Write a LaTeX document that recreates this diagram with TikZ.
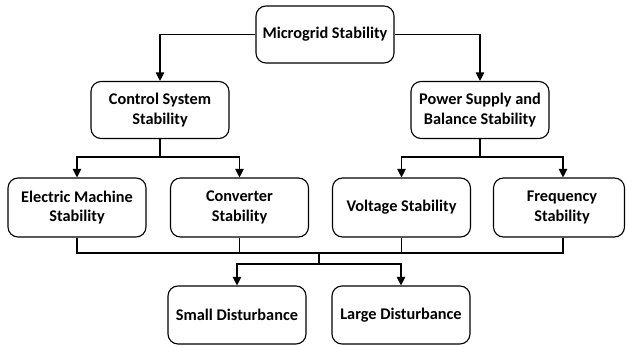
\documentclass[tikz,border=0pt]{standalone}
\usepackage{fontspec}
\setmainfont{Carlito}
\usetikzlibrary{arrows.meta}

\tikzset{
    block/.style={draw,
        rounded corners=10pt,
        line width=1.1pt,
        minimum width=138pt,
        minimum height=57pt,
        align=center,
        font=\fontsize{16.3}{19.5}\selectfont\bfseries},
    link/.style={line width=1.1pt},
    arrow/.style={link, -{Triangle[length=8.5pt,width=8.5pt]}}
}

\begin{document}
\begin{tikzpicture}[x=1pt,y=-1pt]

% Page frame (same size as the original figure)
\useasboundingbox (0,0) rectangle (626,347);

% Top level
\node[block] (micro) at (325,34.5) {Microgrid Stability};

% Second level
\node[block] (ctrl) at (160,110) {Control System\\Stability};
\node[block] (power) at (480,110) {Power Supply and\\Balance Stability};

% Third level
\node[block, minimum height=59pt] (elec) at (77,207.5) {Electric Machine\\Stability};
\node[block, minimum height=59pt] (conv) at (239.5,207.5) {Converter\\Stability};
\node[block, minimum height=59pt] (volt) at (401.5,207.5) {Voltage Stability};
\node[block, minimum height=59pt, minimum width=131pt] (freq) at (559,207.5) {\hspace*{6pt}Frequency\\\hspace*{6pt}Stability};

% Disturbance level
\node[block, minimum height=58pt] (small) at (237,315) {Small Disturbance};
\node[block, minimum height=58pt] (large) at (401,315) {Large Disturbance};

% Top to second level
\draw[arrow] (micro.west) -| (ctrl.north);
\draw[arrow] (micro.east) -| (power.north);

% Second to third level
\draw[arrow] (ctrl.south) -- ++(0,18) -| (elec.north);
\draw[arrow] (ctrl.south) -- ++(0,18) -| (conv.north);
\draw[arrow] (power.south) -- ++(0,18) -| (volt.north);
\draw[arrow] (power.south) -- ++(0,18) -| ([xshift=4pt]freq.north);

% Common bus under the third level
\coordinate (bus) at (319,253);
\draw[link] (elec.south) |- (bus);
\draw[link] (conv.south) |- (bus);
\draw[link] (volt.south) |- (bus);
\draw[link] ([xshift=4pt]freq.south) |- (bus);

% Bus to disturbance boxes
\draw[arrow] (bus) -- ++(0,11) -| (small.north);
\draw[arrow] (bus) -- ++(0,11) -| (large.north);

\end{tikzpicture}
\end{document}
